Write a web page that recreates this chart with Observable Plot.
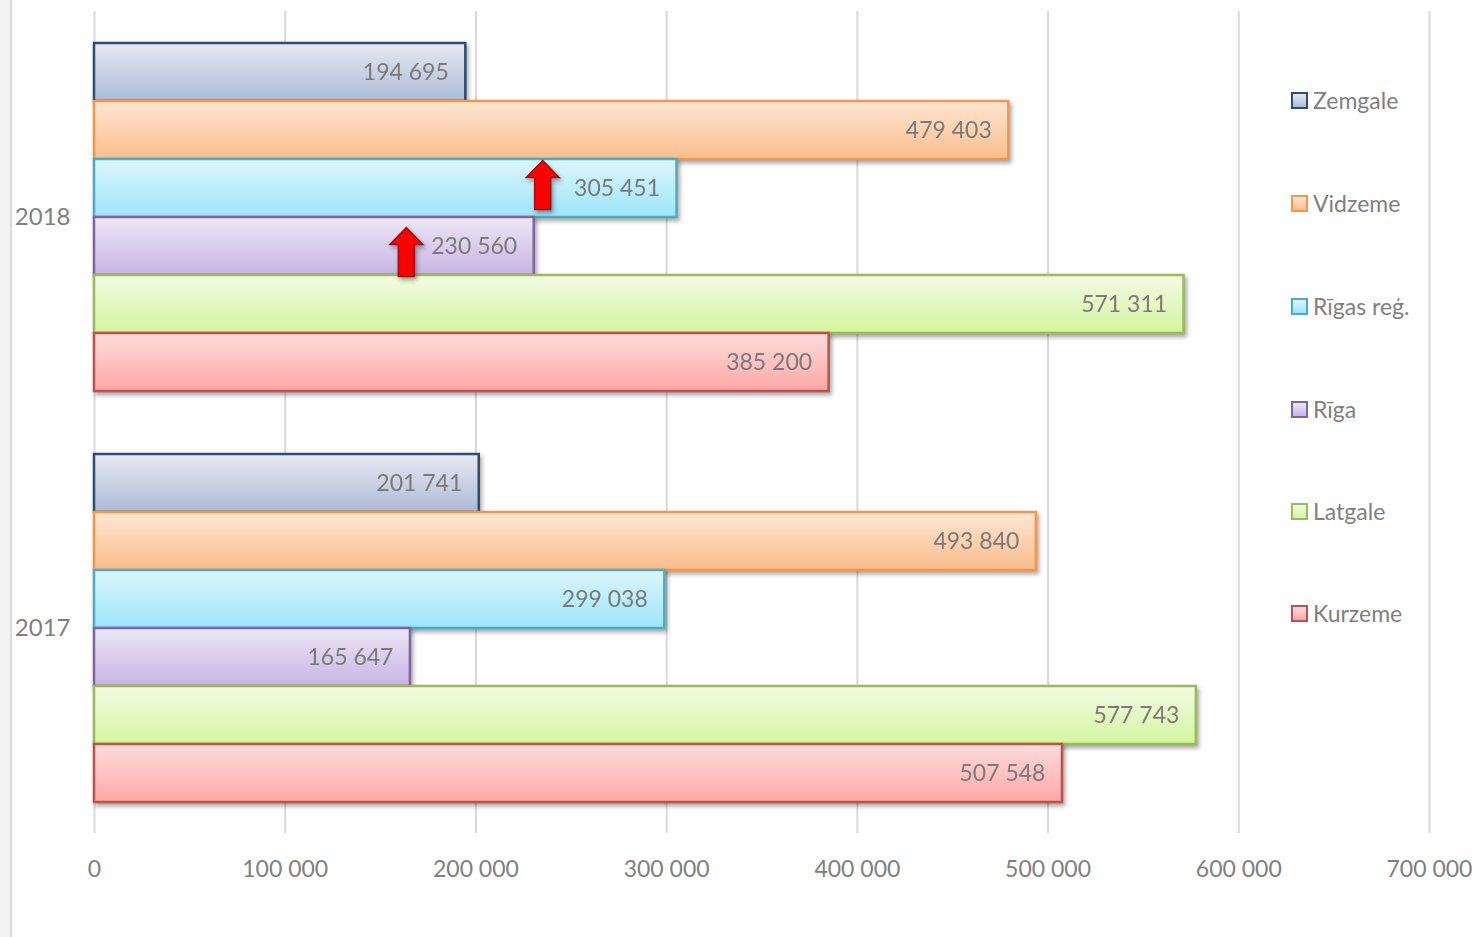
<!DOCTYPE html>
<html>
<head>
<meta charset="utf-8">
<script src="https://cdn.jsdelivr.net/npm/d3@7"></script>
<script src="https://cdn.jsdelivr.net/npm/@observablehq/plot@0.6"></script>
<style>
  html, body { margin: 0; padding: 0; background: #fff; }
  #wrap { position: relative; width: 1478px; height: 937px; overflow: hidden; font-family: Lato, "Open Sans", sans-serif; }
  #chart { position: absolute; left: 0; top: 0; }
  #strip { position: absolute; left: 0; top: 0; width: 10px; height: 937px; background: #f3f3f3; border-right: 2px solid #dadada; z-index: 2; }
  .lg { position: absolute; left: 1291px; height: 24px; display: flex; align-items: center; color: #7f7f7f; font-size: 23px; white-space: nowrap; }
  .lg .sw { width: 13px; height: 13px; border: 2px solid; margin-right: 5px; }
  svg [aria-label^="fy-axis"] text { font-size: 24px; }
</style>
</head>
<body>
<div id="wrap">
  <div id="chart"></div>
  <div id="strip"></div>
</div>
<script>
// ---- data ----
const years = ["2018", "2017"];
const regions = ["Zemgale", "Vidzeme", "Rīgas reģ.", "Rīga", "Latgale", "Kurzeme"];
const values2018 = [194695, 479403, 305451, 230560, 571311, 385200];
const values2017 = [201741, 493840, 299038, 165647, 577743, 507548];
const xTicks = [0, 100000, 200000, 300000, 400000, 500000, 600000, 700000];
// annotation arrows (year, region, x position)
const arrowYears = ["2018", "2018"];
const arrowRegions = ["Rīgas reģ.", "Rīga"];
const arrowX = [235000, 163500];

// ---- styles ----
const borderColors = ["#2c4d75", "#f79646", "#4bacc6", "#8064a2", "#9bbb59", "#c0504d"];
const topColors = ["#e6e9f1", "#fde6d2", "#dcf6fd", "#ede7f6", "#f2fbe4", "#fcdcdc"];
const bottomColors = ["#adbad6", "#fbbd8c", "#9de5fa", "#c7b4e2", "#d5f59e", "#ffa6a6"];
const arrowDy = [-3, 6];

const table = [];
years.forEach(y => {
  const vals = y === "2018" ? values2018 : values2017;
  regions.forEach((r, i) => table.push({ year: y, region: r, value: vals[i], arrow: null, arrowIdx: -1 }));
});
arrowYears.forEach((y, k) => {
  const row = table.find(d => d.year === y && d.region === arrowRegions[k]);
  row.arrow = arrowX[k];
  row.arrowIdx = k;
});

const fmt = d3.formatLocale({ decimal: ",", thousands: " ", grouping: [3], currency: ["", ""] }).format(",d");

const arrowSymbol = {
  draw(ctx) {
    ctx.moveTo(0, -25);
    ctx.lineTo(16.5, -8);
    ctx.lineTo(8, -8);
    ctx.lineTo(8, 24);
    ctx.lineTo(-8, 24);
    ctx.lineTo(-8, -8);
    ctx.lineTo(-16.5, -8);
    ctx.closePath();
  }
};

const chart = Plot.plot({
  width: 1478,
  height: 937,
  marginLeft: 94,
  marginRight: 49,
  marginTop: 10,
  marginBottom: 104,
  style: { fontFamily: "Lato, 'Open Sans', sans-serif", fontSize: "23px", color: "#7f7f7f", background: "transparent" },
  facet: { data: table, y: "year" },
  x: { domain: [0, 700000], ticks: xTicks, tickFormat: fmt, tickSize: 0, tickPadding: 27, label: null },
  y: { domain: regions, axis: null, paddingInner: 0, paddingOuter: 0.5 },
  fy: { domain: years, paddingInner: 0, paddingOuter: 0, axis: "left", tickSize: 0, tickPadding: 24, label: null },
  marks: [
    Plot.ruleX(xTicks, { stroke: "#d9d9d9", strokeWidth: 2 }),
    ...regions.map((r, i) => Plot.barX(table, {
      filter: d => d.region === r,
      x: "value", y: "region",
      fill: `url(#grad${i})`, stroke: borderColors[i], strokeWidth: 2.5
    })),
    Plot.text(table, {
      x: "value", y: "region", text: d => fmt(d.value),
      textAnchor: "end", dx: -17, fill: "#7a7a7a", fontSize: 23
    }),
    ...arrowX.map((ax, k) => Plot.dot(table, {
      filter: d => d.arrowIdx === k,
      x: "arrow", y: "region", symbol: arrowSymbol, r: 1, dy: arrowDy[k],
      fill: "#ff0000", stroke: "#9c1010", strokeWidth: 1.5
    }))
  ]
});

const svg = d3.select(chart);
const defs = svg.insert("defs", ":first-child");
regions.forEach((r, i) => {
  const g = defs.append("linearGradient").attr("id", "grad" + i)
    .attr("x1", 0).attr("y1", 0).attr("x2", 0).attr("y2", 1);
  g.append("stop").attr("offset", "0%").attr("stop-color", topColors[i]);
  g.append("stop").attr("offset", "100%").attr("stop-color", bottomColors[i]);
});
svg.selectAll('g[aria-label="bar"]').style("filter", "drop-shadow(2px 3px 2px rgba(0,0,0,0.35))");
svg.selectAll('g[aria-label="dot"]').style("filter", "drop-shadow(2px 3px 2px rgba(0,0,0,0.35))");

document.getElementById("chart").appendChild(chart);

// legend
const wrap = document.getElementById("wrap");
const legendY = [100, 203, 306, 409, 511, 613];
regions.forEach((r, i) => {
  const item = document.createElement("div");
  item.className = "lg";
  item.style.top = (legendY[i] - 12) + "px";
  const sw = document.createElement("div");
  sw.className = "sw";
  sw.style.borderColor = borderColors[i];
  sw.style.background = `linear-gradient(${topColors[i]}, ${bottomColors[i]})`;
  const t = document.createElement("span");
  t.textContent = r;
  item.appendChild(sw);
  item.appendChild(t);
  wrap.appendChild(item);
});
</script>
</body>
</html>
